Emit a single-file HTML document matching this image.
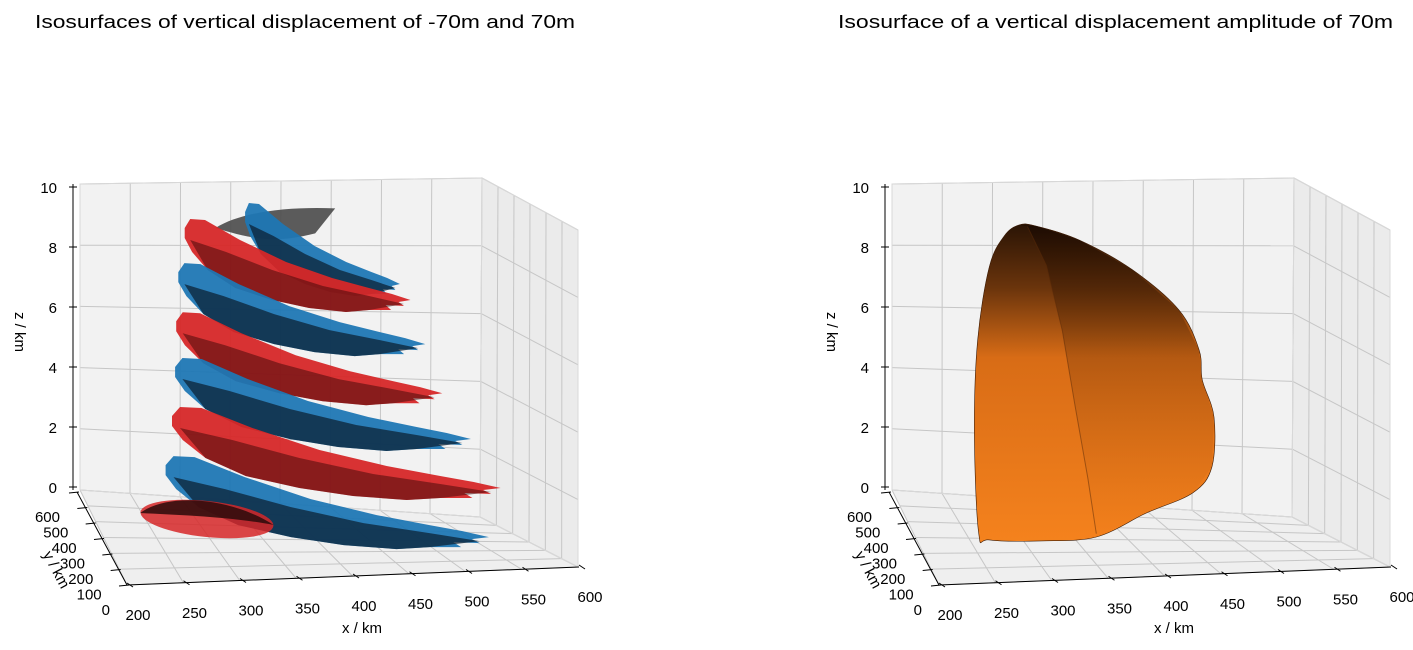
<!DOCTYPE html>
<html><head><meta charset="utf-8"><style>
html,body{margin:0;padding:0;background:#fff;}
svg{display:block;font-family:"Liberation Sans","DejaVu Sans",sans-serif;}
</style></head><body>
<svg id="chart" width="1413" height="650" viewBox="0 0 1413 650" xmlns="http://www.w3.org/2000/svg">
<defs>
<linearGradient id="orangeGrad" x1="0" y1="0" x2="0" y2="1">
<stop offset="0" stop-color="#2a1405"/>
<stop offset="0.2" stop-color="#6a340c"/>
<stop offset="0.42" stop-color="#d86c16"/>
<stop offset="1" stop-color="#f5821d"/>
</linearGradient>
<linearGradient id="orangeGrad2" x1="0" y1="0" x2="0" y2="1">
<stop offset="0" stop-color="#1a0a02" stop-opacity="0.85"/>
<stop offset="0.4" stop-color="#6a3208" stop-opacity="0.35"/>
<stop offset="1" stop-color="#e87414" stop-opacity="0.1"/>
</linearGradient>
</defs>
<text x="35" y="28" font-size="18" textLength="540" lengthAdjust="spacingAndGlyphs" fill="#000">Isosurfaces of vertical displacement of -70m and 70m</text>
<text x="838" y="28" font-size="18" textLength="555" lengthAdjust="spacingAndGlyphs" fill="#000">Isosurface of a vertical displacement amplitude of 70m</text>
<g id="leftPanel"></g>
<g id="rightPanel" transform="translate(812,0)"></g>
</svg>
<script>
// ---- data ----
const xTicks = [200, 250, 300, 350, 400, 450, 500, 550, 600];
const yTicks = [0, 100, 200, 300, 400, 500, 600];
const zTicks = [0, 2, 4, 6, 8, 10];
// left: stacked isosurface sheets (left-tip x km, z km, right-tip x km, sign)
const sheetX = [335, 278, 272, 270, 269, 266, 260];
const sheetZ = [9.94, 9.45, 8.1, 6.6, 5.2, 3.7, 2.2];
const sheetTipX = [481, 491, 505, 521, 548, 576, 565];
const sheetSign = ['neg', 'pos', 'neg', 'pos', 'neg', 'pos', 'neg'];
// top grey cap: left, right (x km) and z km (left, top)
const capX = [307, 420]; const capZ = [9.45, 10.05];
const floorEllipseX = [236, 362]; const floorEllipseZ = [0.55];
// right: amplitude isosurface outline (x km, z km)
const blobX = [261, 257, 260, 271, 285, 299, 315, 356, 406, 450, 469, 472, 483, 481, 463, 419, 372, 320, 271];
const blobZ = [0.12, 3.18, 6.0, 8.26, 9.2, 9.54, 9.51, 9.08, 8.17, 6.94, 5.72, 4.80, 3.67, 2.14, 1.35, 0.73, 0.0, -0.12, -0.09];
const innerX = [307, 325, 340, 352, 364, 372];
const innerZ = [9.5, 8.3, 6.3, 4.0, 1.8, 0.1];

const NS = 'http://www.w3.org/2000/svg';
function el(parent, tag, attrs) {
  const e = document.createElementNS(NS, tag);
  for (const k in attrs) e.setAttribute(k, attrs[k]);
  parent.appendChild(e);
  return e;
}
const C = {
  b0: [80, 490], b1: [480, 517], f0: [127, 585], f1: [578, 567],
  B0: [80, 184], B1: [482, 178], F0: [127, 238], F1: [578, 230]
};
function P(x, y, z) {
  const u = (x - 200) / 400, v = y / 600, w = z / 10;
  const lerp = (a, b, t) => [a[0] + (b[0] - a[0]) * t, a[1] + (b[1] - a[1]) * t];
  const bot = lerp(lerp(C.f0, C.f1, u), lerp(C.b0, C.b1, u), v);
  const top = lerp(lerp(C.F0, C.F1, u), lerp(C.B0, C.B1, u), v);
  return lerp(bot, top, w);
}
function sx(xk) { return 102 + (xk - 200) * 1.06; }
function sz(zk) { return 537 - zk * 32.7; }
function poly(pts) { return pts.map((p, i) => (i ? 'L' : 'M') + p[0].toFixed(1) + ',' + p[1].toFixed(1)).join(' ') + ' Z'; }
function smooth(pts) {
  const n = pts.length; let d = 'M' + pts[0][0].toFixed(1) + ',' + pts[0][1].toFixed(1);
  for (let i = 0; i < n; i++) {
    const p0 = pts[(i - 1 + n) % n], p1 = pts[i], p2 = pts[(i + 1) % n], p3 = pts[(i + 2) % n];
    const c1 = [p1[0] + (p2[0] - p0[0]) / 6, p1[1] + (p2[1] - p0[1]) / 6];
    const c2 = [p2[0] - (p3[0] - p1[0]) / 6, p2[1] - (p3[1] - p1[1]) / 6];
    d += ` C${c1[0].toFixed(1)},${c1[1].toFixed(1)} ${c2[0].toFixed(1)},${c2[1].toFixed(1)} ${p2[0].toFixed(1)},${p2[1].toFixed(1)}`;
  }
  return d + ' Z';
}

function drawAxes(g) {
  const back = [P(200,600,0), P(600,600,0), P(600,600,10), P(200,600,10)];
  const side = [P(600,600,0), P(600,0,0), P(600,0,10), P(600,600,10)];
  const floor = [P(200,0,0), P(600,0,0), P(600,600,0), P(200,600,0)];
  let e;
  e = el(g, 'path', {d: poly(back), fill: '#f2f2f2', stroke: 'none'});
   
  e = el(g, 'path', {d: poly(side), fill: '#ebebeb', stroke: 'none'});
   
  e = el(g, 'path', {d: poly(floor), fill: '#efefef', stroke: 'none'});
   
  const grid = el(g, 'g', {stroke: '#c6c6c6', 'stroke-width': 1, fill: 'none'});
   
  const line = (a, b) => el(grid, 'line', {x1: a[0], y1: a[1], x2: b[0], y2: b[1]});
  xTicks.forEach(x => { line(P(x,600,0), P(x,600,10)); line(P(x,0,0), P(x,600,0)); });
  zTicks.forEach(z => { line(P(200,600,z), P(600,600,z)); line(P(600,600,z), P(600,0,z)); });
  yTicks.forEach(y => { line(P(200,y,0), P(600,y,0)); line(P(600,y,0), P(600,y,10)); });
  const edges = el(g, 'g', {stroke: '#d8d8d8', 'stroke-width': 1, fill: 'none'});
   
  el(edges, 'path', {d: poly(side)});
  el(edges, 'path', {d: poly(back)});
}

function drawAxisLines(g) {
  const ax = el(g, 'g', {stroke: '#000', 'stroke-width': 1, fill: 'none'});
   
  const zx = 73;
  const zt = z => 487 - z * 30;
  el(ax, 'line', {x1: zx, y1: zt(10.1), x2: zx, y2: zt(-0.1)});
  const tl = el(g, 'g', {'font-size': 15, fill: '#000'});
   
  zTicks.forEach(z => {
    el(ax, 'line', {x1: zx - 4, y1: zt(z), x2: zx + 4, y2: zt(z)});
    const t = el(tl, 'text', {x: 57, y: zt(z) + 6, 'text-anchor': 'end'});
    t.textContent = z;
  });
  const y0 = [127, 585], y1 = [77, 492];
  el(ax, 'line', {x1: y0[0], y1: y0[1], x2: y1[0], y2: y1[1]});
  yTicks.forEach(y => {
    const t = y / 600;
    const px = y0[0] + (y1[0] - y0[0]) * t, py = y0[1] + (y1[1] - y0[1]) * t;
    el(ax, 'line', {x1: px - 8, y1: py + 1, x2: px + 2, y2: py});
    const tx = el(tl, 'text', {x: px - 17, y: py + 30, 'text-anchor': 'end'});
    tx.textContent = y;
  });
  const x0 = [127, 585], x1 = [579, 567];
  el(ax, 'line', {x1: x0[0], y1: x0[1], x2: x1[0], y2: x1[1]});
  xTicks.forEach(x => {
    const t = (x - 200) / 400;
    const px = x0[0] + (x1[0] - x0[0]) * t, py = x0[1] + (x1[1] - x0[1]) * t;
    el(ax, 'line', {x1: px, y1: py - 2, x2: px + 6, y2: py + 2});
    const tx = el(tl, 'text', {x: px + 11, y: py + 35, 'text-anchor': 'middle'});
    tx.textContent = x;
  });
  let lab = el(g, 'text', {x: 362, y: 633, 'font-size': 15, 'text-anchor': 'middle'});
  lab.textContent = 'x / km';
   
  lab = el(g, 'text', {x: 0, y: 0, 'font-size': 15, 'text-anchor': 'middle', transform: 'translate(52,572) rotate(62)'});
  lab.textContent = 'y / km';
   
  lab = el(g, 'text', {x: 0, y: 0, 'font-size': 15, 'text-anchor': 'middle', transform: 'translate(15,332) rotate(90)'});
  lab.textContent = 'z / km';
   
}

function sheetPath(ax, ay, tipPx) {
  const s = (tipPx - ax) / 245;
  const rel = [[0,0],[6,-9],[22,-8],[60,12],[110,34],[160,50],[200,60],[225,66],[245,72],[232,74],[238,78],[218,77],[224,82],[200,82],[175,84],[135,80],[95,72],[55,60],[25,42],[8,24],[0,10]];
  return poly(rel.map(p => [ax + p[0] * s, ay + p[1]]));
}
function sheetShade(ax, ay, tipPx) {
  const s = (tipPx - ax) / 245;
  const rel = [[6,12],[45,24],[95,42],[150,58],[200,68],[238,76],[200,82],[175,84],[135,80],[95,72],[55,60],[25,42]];
  return poly(rel.map(p => [ax + p[0] * s, ay + p[1]]));
}

function drawLeft() {
  const g = document.getElementById('leftPanel');
  drawAxes(g);
  const surf = el(g, 'g', {});
   
  const lx = sx(capX[0]), ly = sz(capZ[0]), rx = sx(capX[1]), ty = sz(capZ[1]);
  let e = el(surf, 'path', {d: `M${lx},${ly} C${lx+25},${ty+4} ${rx-50},${ty-2} ${rx},${ty} L${rx-20},${ty+25} C${rx-60},${ty+35} ${lx+40},${ly+12} ${lx},${ly} Z`, fill: '#4a4a4a', 'fill-opacity': 0.9});
   
  for (let i = 0; i < sheetZ.length; i++) {
    const ax = sx(sheetX[i]), ay = sz(sheetZ[i]), tip = sx(sheetTipX[i]);
    const pos = sheetSign[i] === 'pos';
    const main = el(surf, 'path', {d: sheetPath(ax, ay, tip), fill: pos ? '#d62728' : '#1f77b4', 'fill-opacity': 0.95});
    
    
    const sh = el(surf, 'path', {d: sheetShade(ax, ay, tip), fill: pos ? '#3a0505' : '#0b1e30', 'fill-opacity': pos ? 0.5 : 0.72});
    
    
  }
  const fx0 = sx(floorEllipseX[0]), fx1 = sx(floorEllipseX[1]), fy = sz(floorEllipseZ[0]);
  e = el(surf, 'ellipse', {cx: (fx0 + fx1) / 2, cy: fy, rx: (fx1 - fx0) / 2, ry: 18, fill: '#d62728', 'fill-opacity': 0.85, transform: `rotate(6 ${(fx0+fx1)/2} ${fy})`});
   
  e = el(surf, 'path', {d: `M${fx0},${fy-6} C${fx0+30},${fy-28} ${fx1-40},${fy-20} ${fx1},${fy+6} C${fx1-40},${fy-2} ${fx0+40},${fy-4} ${fx0},${fy-6} Z`, fill: '#2a0a0a', 'fill-opacity': 0.85});
   
  drawAxisLines(g);
}

function drawRight() {
  const g = document.getElementById('rightPanel');
  drawAxes(g);
  const pts = blobX.map((x, i) => [sx(x), sz(blobZ[i])]);
  let e = el(g, 'path', {d: smooth(pts), fill: 'url(#orangeGrad)', stroke: '#3a1a05', 'stroke-width': 0.6});
   
  const lobe = [];
  for (let i = 5; i <= 16; i++) lobe.push(pts[i]);
  const inner = innerX.map((x, i) => [sx(x), sz(innerZ[i])]);
  for (let i = inner.length - 1; i >= 0; i--) lobe.push(inner[i]);
  e = el(g, 'path', {d: poly(lobe), fill: 'url(#orangeGrad2)'});
   
  e = el(g, 'path', {d: inner.map((p, i) => (i ? 'L' : 'M') + p[0] + ',' + p[1]).join(' '), fill: 'none', stroke: '#5a2a08', 'stroke-opacity': 0.5, 'stroke-width': 1});
   
  drawAxisLines(g);
}
drawLeft();
drawRight();
</script>
</body></html>
